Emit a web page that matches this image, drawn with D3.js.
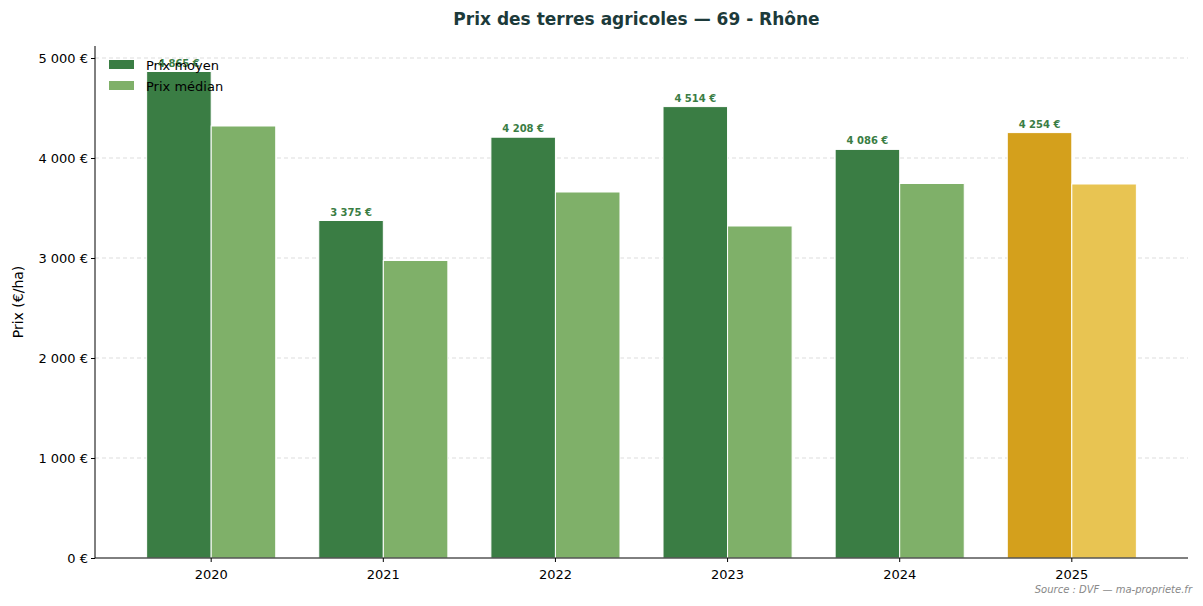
<!DOCTYPE html>
<html><head><meta charset="utf-8">
<script src="https://cdn.jsdelivr.net/npm/d3@7"></script>
<style>body{margin:0;background:#fff;font-family:"DejaVu Sans",sans-serif;}</style>
</head><body><div id="chart"></div>
<script>
var years = ["2020", "2021", "2022", "2023", "2024", "2025"];
var meanPrice = [4865, 3375, 4208, 4514, 4086, 4254];
var medianPrice = [4320, 2975, 3660, 3320, 3745, 3740];
var yTicks = [0, 1000, 2000, 3000, 4000, 5000];

var width = 1203, height = 606;
var m = {left: 95, right: 15, top: 46, bottom: 48};

var svg = d3.select("#chart").append("svg")
	.attr("width", width)
	.attr("height", height);

var x = d3.scaleBand().domain(years).range([m.left, width - m.right]).paddingInner(0.25).paddingOuter(0.3);
var y = d3.scaleLinear().domain([0, 5120]).range([height - m.bottom, m.top]);
var fmt = function (v) { return d3.format(",")(v).replace(/,/g, "\u00a0") + " €"; };

// grid
svg.append("g").selectAll("line").data(yTicks.slice(1)).join("line")
	.attr("x1", m.left).attr("x2", width - m.right)
	.attr("y1", d => y(d)).attr("y2", d => y(d))
	.attr("stroke", "#ddd").attr("stroke-dasharray", "4,3");

var bw = x.bandwidth() / 2;
years.forEach(function (yr, i) {
	var last = i === years.length - 1;
	svg.append("rect")
		.attr("x", x(yr)).attr("y", y(meanPrice[i]))
		.attr("width", bw).attr("height", y(0) - y(meanPrice[i]))
		.attr("fill", last ? "#d4a01c" : "#3a7d44").attr("stroke", "#fff").attr("stroke-width", 1);
	svg.append("rect")
		.attr("x", x(yr) + bw).attr("y", y(medianPrice[i]))
		.attr("width", bw).attr("height", y(0) - y(medianPrice[i]))
		.attr("fill", last ? "#e8c452" : "#7fb069").attr("stroke", "#fff").attr("stroke-width", 1);
	svg.append("text")
		.attr("x", x(yr) + bw / 2).attr("y", y(meanPrice[i]) - 5)
		.attr("text-anchor", "middle").attr("font-size", 10).attr("font-weight", "bold")
		.attr("fill", "#3a7d44").text(fmt(meanPrice[i]));
});

// axes
var xAxis = svg.append("g").attr("transform", "translate(0," + y(0) + ")")
	.call(d3.axisBottom(x).tickSize(4));
xAxis.select(".domain").attr("d", "M" + m.left + ",0H" + (width - m.right));
var yAxis = svg.append("g").attr("transform", "translate(" + m.left + ",0)")
	.call(d3.axisLeft(y).tickValues(yTicks).tickFormat(fmt).tickSize(4));
yAxis.select(".domain").attr("d", "M0," + y(0) + "V" + m.top);
svg.selectAll(".tick text").attr("font-size", 13).attr("fill", "#000").attr("font-family", "DejaVu Sans");
xAxis.selectAll(".tick text").attr("dy", "1.1em");

svg.append("text").attr("transform", "rotate(-90)")
	.attr("x", -(y(0) + m.top) / 2).attr("y", 23).attr("text-anchor", "middle")
	.attr("font-size", 14).text("Prix (€/ha)");

svg.append("text").attr("x", (m.left + width - m.right) / 2 - 5).attr("y", 25)
	.attr("text-anchor", "middle").attr("font-size", 17).attr("font-weight", "bold")
	.attr("fill", "#1c3a3a").text("Prix des terres agricoles — 69 - Rhône");

svg.append("text").attr("x", 1192).attr("y", 593).attr("text-anchor", "end")
	.attr("font-size", 10).attr("font-style", "italic").attr("fill", "#888")
	.text("Source : DVF — ma-propriete.fr");

// legend
var legend = [["Prix moyen", "#3a7d44"], ["Prix médian", "#7fb069"]];
legend.forEach(function (l, i) {
	svg.append("rect").attr("x", 109).attr("y", 60 + i * 21).attr("width", 25).attr("height", 9).attr("fill", l[1]);
	svg.append("text").attr("x", 146).attr("y", 70 + i * 21).attr("font-size", 13).text(l[0]);
});
</script></body></html>
